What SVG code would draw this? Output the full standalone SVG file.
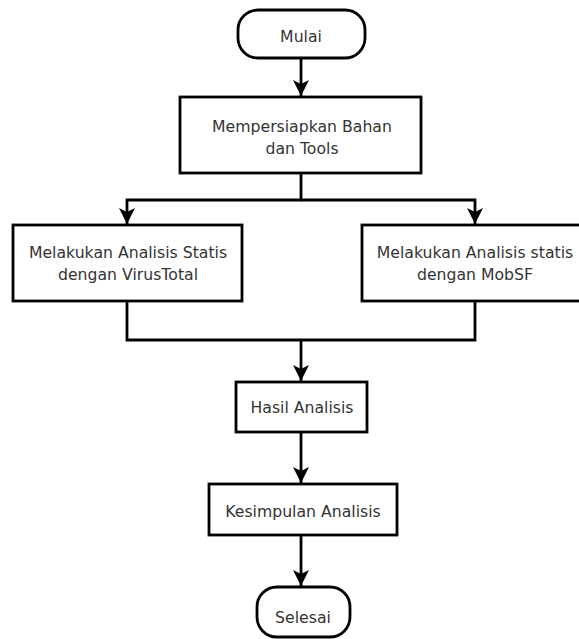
<svg xmlns="http://www.w3.org/2000/svg" width="579" height="639" viewBox="0 0 579 639">
<style>
.box{fill:#fff;stroke:#000;stroke-width:2.8}
.t{font-family:"DejaVu Sans","Liberation Sans",sans-serif;font-size:15.7px;fill:#333;text-anchor:middle}
.c{fill:none;stroke:#000;stroke-width:2.8}
</style>
<defs>
<marker id="ah" markerUnits="userSpaceOnUse" markerWidth="18" markerHeight="18" viewBox="0 0 18 18" refX="17" refY="9" orient="auto">
<path d="M1,1 L17,9 L1,17 L5,9 z" fill="#000"/>
</marker>
</defs>
<rect width="579" height="639" fill="#fff"/>
<g id="connectors">
<path class="c" d="M301,58 V96" marker-end="url(#ah)"/>
<path class="c" d="M301,173 V200 H127 V224" marker-end="url(#ah)"/>
<path class="c" d="M301,200 H475 V224" marker-end="url(#ah)"/>
<path class="c" d="M127,301 V340 H475 V301"/>
<path class="c" d="M301,340 V381" marker-end="url(#ah)"/>
<path class="c" d="M301,432 V483" marker-end="url(#ah)"/>
<path class="c" d="M301,535 V586" marker-end="url(#ah)"/>
</g>
<g id="mulai">
<rect class="box" x="238" y="10" width="127" height="48" rx="20" ry="20"/>
<text class="t" x="301" y="42">Mulai</text>
</g>
<g id="persiapan">
<rect class="box" x="180" y="97" width="241" height="76"/>
<text class="t" x="302" y="132">Mempersiapkan Bahan</text>
<text class="t" x="302" y="154">dan Tools</text>
</g>
<g id="virustotal">
<rect class="box" x="13" y="225" width="229" height="76"/>
<text class="t" x="128" y="258">Melakukan Analisis Statis</text>
<text class="t" x="128" y="280">dengan VirusTotal</text>
</g>
<g id="mobsf">
<rect class="box" x="362" y="225" width="226" height="76"/>
<text class="t" x="475" y="258">Melakukan Analisis statis</text>
<text class="t" x="475" y="280">dengan MobSF</text>
</g>
<g id="hasil">
<rect class="box" x="236" y="382" width="131" height="50"/>
<text class="t" x="302" y="413">Hasil Analisis</text>
</g>
<g id="kesimpulan">
<rect class="box" x="209" y="484" width="188" height="51"/>
<text class="t" x="303" y="517">Kesimpulan Analisis</text>
</g>
<g id="selesai">
<rect class="box" x="257" y="587" width="93" height="50" rx="20" ry="20"/>
<text class="t" x="303" y="623">Selesai</text>
</g>
</svg>
